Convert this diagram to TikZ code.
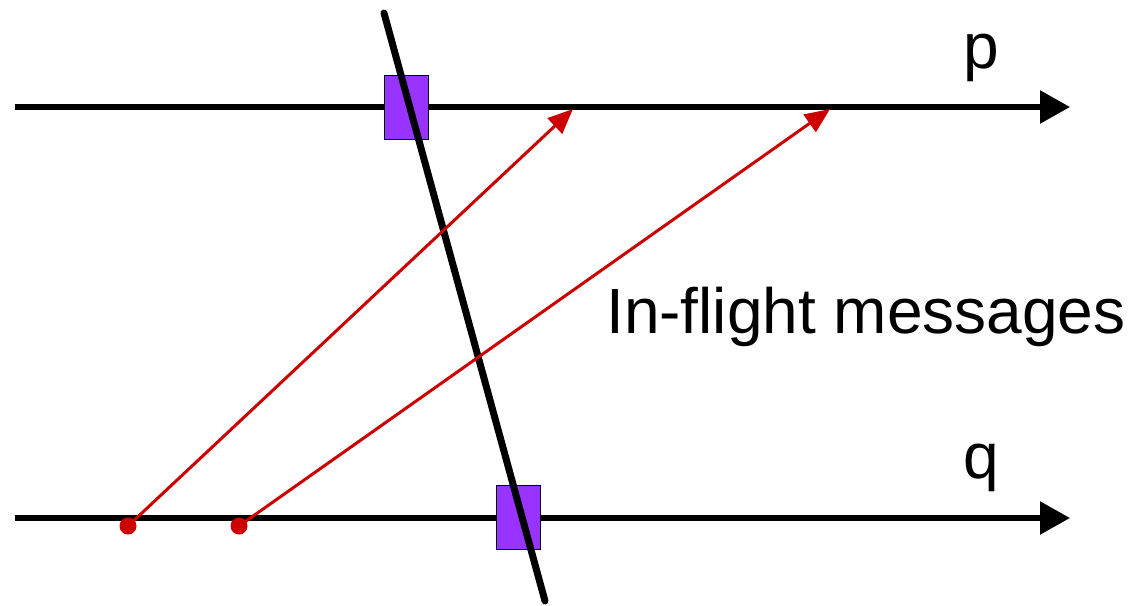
\documentclass[tikz,border=0pt]{standalone}
\usepackage{fontspec}
\setmainfont{Liberation Sans}
\usetikzlibrary{arrows.meta}
\definecolor{cutpurple}{HTML}{9933FF}
\definecolor{msgred}{HTML}{CC0000}
\begin{document}
\begin{tikzpicture}[x=1pt,y=-1pt,
  timeline/.style={line width=5.5pt,-{Triangle[length=30pt,width=32pt]}},
  cutbox/.style={draw=black,line width=1pt,fill=cutpurple,minimum width=44pt,minimum height=64pt,inner sep=0pt},
  cutline/.style={line width=7pt,line cap=round},
  msg/.style={msgred,line width=3pt,-{Triangle[length=25pt,width=21pt]}},
  senddot/.style={circle,fill=msgred,minimum size=17pt,inner sep=0pt},
  lbl/.style={inner sep=0pt,anchor=base west,font=\fontsize{64}{70}\selectfont}]
\useasboundingbox (0,0) rectangle (1132,605);
% timelines
\coordinate (p0) at (15,107);
\coordinate (p1) at (1070,107);
\coordinate (q0) at (15,518);
\coordinate (q1) at (1070,518);
\draw[timeline] (p0) -- (p1);
\draw[timeline] (q0) -- (q1);
% cut boxes
\node[cutbox] (bp) at (406,107) {};
\node[cutbox] (bq) at (518,517.5) {};
% cut line
\coordinate (c0) at (384,13);
\coordinate (c1) at (545,601);
\draw[cutline] (c0) -- (c1);
% messages
\node[senddot] (s1) at (128,526) {};
\node[senddot] (s2) at (239,526) {};
\coordinate (r1) at (573,109);
\coordinate (r2) at (830,109);
\draw[msg] (s1.center) -- (r1);
\draw[msg] (s2.center) -- (r2);
% labels
\node[lbl] (lp) at (963,68) {p};
\node[lbl] (lq) at (963,478) {q};
\node[lbl] (lm) at (606,333) {In-flight messages};
\end{tikzpicture}
\end{document}
